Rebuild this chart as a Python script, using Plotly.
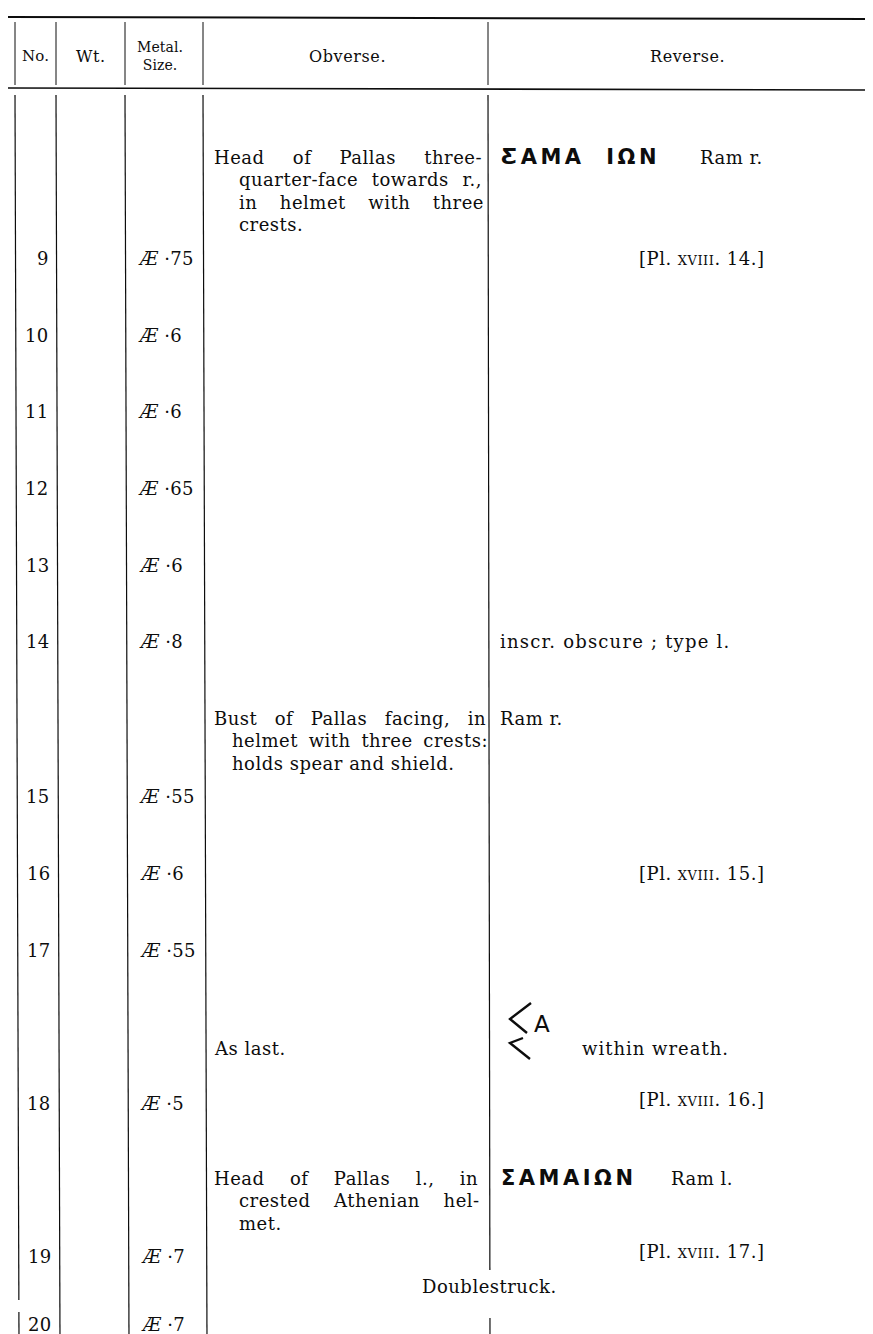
import plotly.graph_objects as go

# ---------------- data ----------------
col_headers = ["No.", "Wt.", "Metal.<br>Size.", "Obverse.", "Reverse."]
coin_numbers = ["9", "10", "11", "12", "13", "14", "15", "16", "17", "18", "19", "20"]
coin_metal = ["Æ"] * 12
coin_sizes = ["·75", "·6", "·6", "·65", "·6", "·8", "·55", "·6", "·55", "·5", "·7", "·7"]

obverse_texts = {
    "9": ["Head of Pallas three-", "quarter-face towards r.,", "in helmet with three", "crests."],
    "15": ["Bust of Pallas facing, in", "helmet with three crests:", "holds spear and shield."],
    "18": ["As last."],
    "19": ["Head of Pallas l., in", "crested Athenian hel-", "met."],
}
reverse_inscriptions = {"9": "ƸAMA  IΩN", "19": "ΣΑΜΑΙΩΝ"}
reverse_types = {"9": "Ram r.", "14": "inscr. obscure ; type l.", "15": "Ram r.",
                 "18": "within wreath.", "19": "Ram l."}
monogram_letter = "A"
plate_numbers = {"9": "14", "16": "15", "18": "16", "19": "17"}
remarks = {"19": "Doublestruck."}

# ---------------- layout constants ----------------
W, H = 873, 1334
SERIF = "DejaVu Serif"
SANS = "DejaVu Sans"
INK = "#0d0d0d"
row_y = [250, 327, 403, 480, 557, 633, 788, 865, 942, 1095, 1248, 1316]
col_x = [7, 48, 117, 195, 480]
tilt = 4
body_top = 87
obv_first_y = {"9": 149, "15": 710, "18": 1040, "19": 1170}
line_gap = 22.5
plate_y = {"9": 250, "16": 865, "18": 1091, "19": 1243}
FS = 18
LS = 0.5

SERIF_W = {
    ' ': .318, 'a': .596, 'b': .640, 'c': .560, 'd': .640, 'e': .592, 'f': .370, 'g': .640,
    'h': .644, 'i': .320, 'j': .310, 'k': .606, 'l': .320, 'm': .948, 'n': .644, 'o': .602,
    'p': .640, 'q': .640, 'r': .478, 's': .513, 't': .402, 'u': .644, 'v': .565, 'w': .856,
    'x': .564, 'y': .565, 'z': .527, '.': .318, ',': .318, '-': .338, ':': .337, ';': .337,
    'A': .722, 'B': .735, 'H': .872, 'P': .733, 'R': .770,
}


def dx(y):
    return tilt * (y - body_top) / (H - body_top)


def natural(s, fs=FS, ls=LS):
    return sum(SERIF_W.get(c, .6) for c in s) * fs + ls * len(s)


annotations = []


def add_text(x, y, text, size=FS, family=SERIF, anchor="left", ls=LS, ws=None):
    style = f"letter-spacing:{ls}px"
    if ws is not None:
        style += f";word-spacing:{ws:.2f}px"
    annotations.append(dict(
        x=x, y=y, xref="x", yref="y", text=f"<span style='{style}'>{text}</span>",
        showarrow=False, xanchor=anchor, yanchor="middle",
        font=dict(family=family, size=size, color=INK)))


def add_justified(x0, x1, y, s, justify=True):
    gaps = s.count(" ")
    ws = None
    if justify and gaps:
        ws = max(0.0, (x1 - x0 - natural(s)) / gaps)
    add_text(x0, y, s, ws=ws)


# ---------------- headers ----------------
hdr_y = 48
add_text(27, hdr_y, col_headers[0], size=15, anchor="center", ls=0.2)
add_text(82, hdr_y, col_headers[1], size=16, anchor="center", ls=0.5)
add_text(152, hdr_y, col_headers[2], size=14, anchor="center", ls=0.1)
add_text(339, hdr_y, col_headers[3], size=16, anchor="center", ls=0.6)
add_text(679, hdr_y, col_headers[4], size=16, anchor="center", ls=0.6)

# ---------------- number & metal columns ----------------
for num, met, sz, y in zip(coin_numbers, coin_metal, coin_sizes, row_y):
    add_text(col_x[1] - 6 + dx(y), y, num, anchor="right", ls=0.3)
    add_text(col_x[2] + 10 + dx(y), y, f"<i>{met}</i> {sz}", ls=0.3)

# ---------------- obverse ----------------
obv_left, obv_indent = 204, 229
obv_right = {"9": 474, "15": 478, "18": 474, "19": 470}
for key, lines in obverse_texts.items():
    y0 = obv_first_y[key]
    for i, s in enumerate(lines):
        x0 = obv_left if i == 0 else obv_indent - (7 if key == "15" else 0)
        last = (i == len(lines) - 1)
        add_justified(x0, obv_right[key], y0 + i * line_gap, s, justify=not last)

# ---------------- reverse ----------------
for key, insc in reverse_inscriptions.items():
    add_text(491, obv_first_y[key], f"<b>{insc}</b>", size=21, family=SANS, ls=3.5)
add_text(690, obv_first_y["9"], reverse_types["9"])
add_text(661, obv_first_y["19"], reverse_types["19"])
add_text(490, row_y[5], reverse_types["14"], ls=1.2)
add_text(490, obv_first_y["15"], reverse_types["15"])
add_text(572, obv_first_y["18"], reverse_types["18"], ls=1.0)
# monogram: ligature of archaic sigma (chevrons) and alpha
add_text(534, 1016, monogram_letter, size=23, family=SANS, anchor="center", ls=0)

for key, pn in plate_numbers.items():
    add_text(759, plate_y[key],
             f"[Pl. <span style='font-variant:small-caps'>xviii</span>. {pn}.]", anchor="right")
for key, rm in remarks.items():
    add_text(481, 1278, rm, anchor="center")

# ---------------- rules ----------------
shapes = []


def seg(x0, y0, x1, y1, w=1.2):
    shapes.append(dict(type="line", xref="x", yref="y", x0=x0, y0=y0, x1=x1, y1=y1,
                       line=dict(color=INK, width=w)))


seg(0, 9, W, 11, 2.0)
seg(0, 80, W, 82, 1.6)
for cx in col_x:
    seg(cx, 14, cx, 77, 1.0)
for i, cx in enumerate(col_x):
    if i == 0:
        seg(cx, body_top, cx + dx(1292), 1292)
        seg(cx + dx(1304), 1304, cx + tilt, H)
    elif i == 4:
        seg(cx, body_top, cx + dx(1262) * 0.5, 1262)
        seg(cx + dx(1310) * 0.5, 1310, cx + tilt * 0.5, H)
    else:
        seg(cx, body_top, cx + tilt, H)

# sigma chevrons of the monogram
shapes.append(dict(type="path", xref="x", yref="y",
                   path="M 523 995 L 502 1011 L 519 1025 M 515 1030 L 502 1035 L 522 1051",
                   line=dict(color=INK, width=2.4)))

fig = go.Figure(go.Scatter(x=[0, W], y=[0, H], mode="markers",
                           marker=dict(opacity=0), hoverinfo="skip", showlegend=False))
fig.update_layout(
    width=W, height=H, margin=dict(l=0, r=0, t=0, b=0),
    paper_bgcolor="white", plot_bgcolor="white",
    xaxis=dict(range=[0, W], visible=False, fixedrange=True),
    yaxis=dict(range=[H, 0], visible=False, fixedrange=True),
    annotations=annotations, shapes=shapes, showlegend=False,
)
fig.write_html("out.html")
